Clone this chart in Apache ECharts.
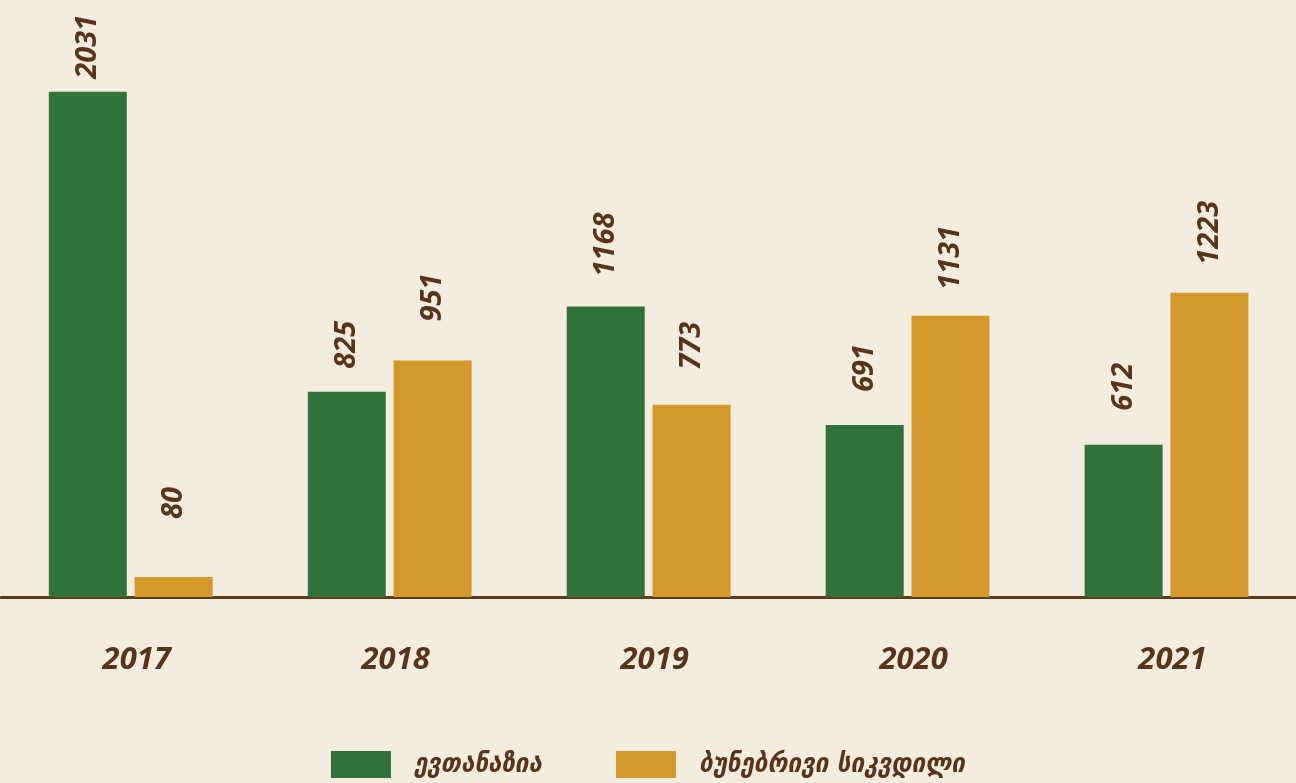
<!DOCTYPE html>
<html>
<head>
<meta charset="utf-8">
<script src="https://cdn.jsdelivr.net/npm/echarts@6/dist/echarts.min.js"></script>
<style>
html,body{margin:0;padding:0;background:#f4ecdf;}
#main{width:1296px;height:783px;}
</style>
</head>
<body>
<div id="main"></div>
<script>
var years = ['2017', '2018', '2019', '2020', '2021'];
var euthanasia = [2031, 825, 1168, 691, 612];
var naturalDeath = [80, 951, 773, 1131, 1223];
var seriesNames = ['ევთანაზია', 'ბუნებრივი სიკვდილი'];
// label gap above each bar, as placed in the original
var gapEuth = [13, 23, 30, 33, 34];
var gapNat = [58, 39, 35, 26, 28];

var textColor = '#5a341a';
var labelStyle = {
    show: true,
    position: 'top',
    rotate: 90,
    align: 'left',
    verticalAlign: 'middle',
    distance: 30,
    color: textColor,
    fontSize: 29,
    fontWeight: 'bold',
    fontStyle: 'italic',
    fontFamily: 'Noto Sans'
};

function withGaps(values, gaps) {
    return values.map(function (v, i) {
        return { value: v, label: { distance: gaps[i] } };
    });
}

var myChart = echarts.init(document.getElementById('main'));
var option = {
    backgroundColor: '#f4ecdf',
    animation: false,
    grid: { left: 1.25, width: 1297.5, top: 0, bottom: 186 },
    legend: {
        data: seriesNames,
        top: 751,
        left: 'center',
        padding: 0,
        itemWidth: 60,
        itemHeight: 27,
        itemGap: 74,
        icon: 'rect',
        textStyle: {
            color: textColor,
            fontSize: 27,
            lineHeight: 27,
            fontWeight: 'bold',
            fontStyle: 'italic',
            fontFamily: "'DejaVu Sans Condensed', 'DejaVu Sans'",
            padding: [0, 0, 0, 18]
        }
    },
    xAxis: {
        type: 'category',
        data: years,
        axisLine: { lineStyle: { color: '#5e3a1e', width: 3, cap: 'round' } },
        axisTick: { show: false },
        axisLabel: {
            margin: 48,
            padding: [0, 0, 0, 12],
            color: textColor,
            fontSize: 31,
            fontWeight: 'bold',
            fontStyle: 'italic',
            fontFamily: 'Noto Sans'
        }
    },
    yAxis: {
        type: 'value',
        min: 0,
        max: 2400,
        show: false
    },
    series: [
        {
            name: seriesNames[0],
            type: 'bar',
            data: withGaps(euthanasia, gapEuth),
            barWidth: 78,
            barGap: '10%',
            itemStyle: { color: '#32723a' },
            label: labelStyle
        },
        {
            name: seriesNames[1],
            type: 'bar',
            data: withGaps(naturalDeath, gapNat),
            barWidth: 78,
            barGap: '10%',
            itemStyle: { color: '#d4972b' },
            label: labelStyle
        }
    ]
};
myChart.setOption(option);
</script>
</body>
</html>
